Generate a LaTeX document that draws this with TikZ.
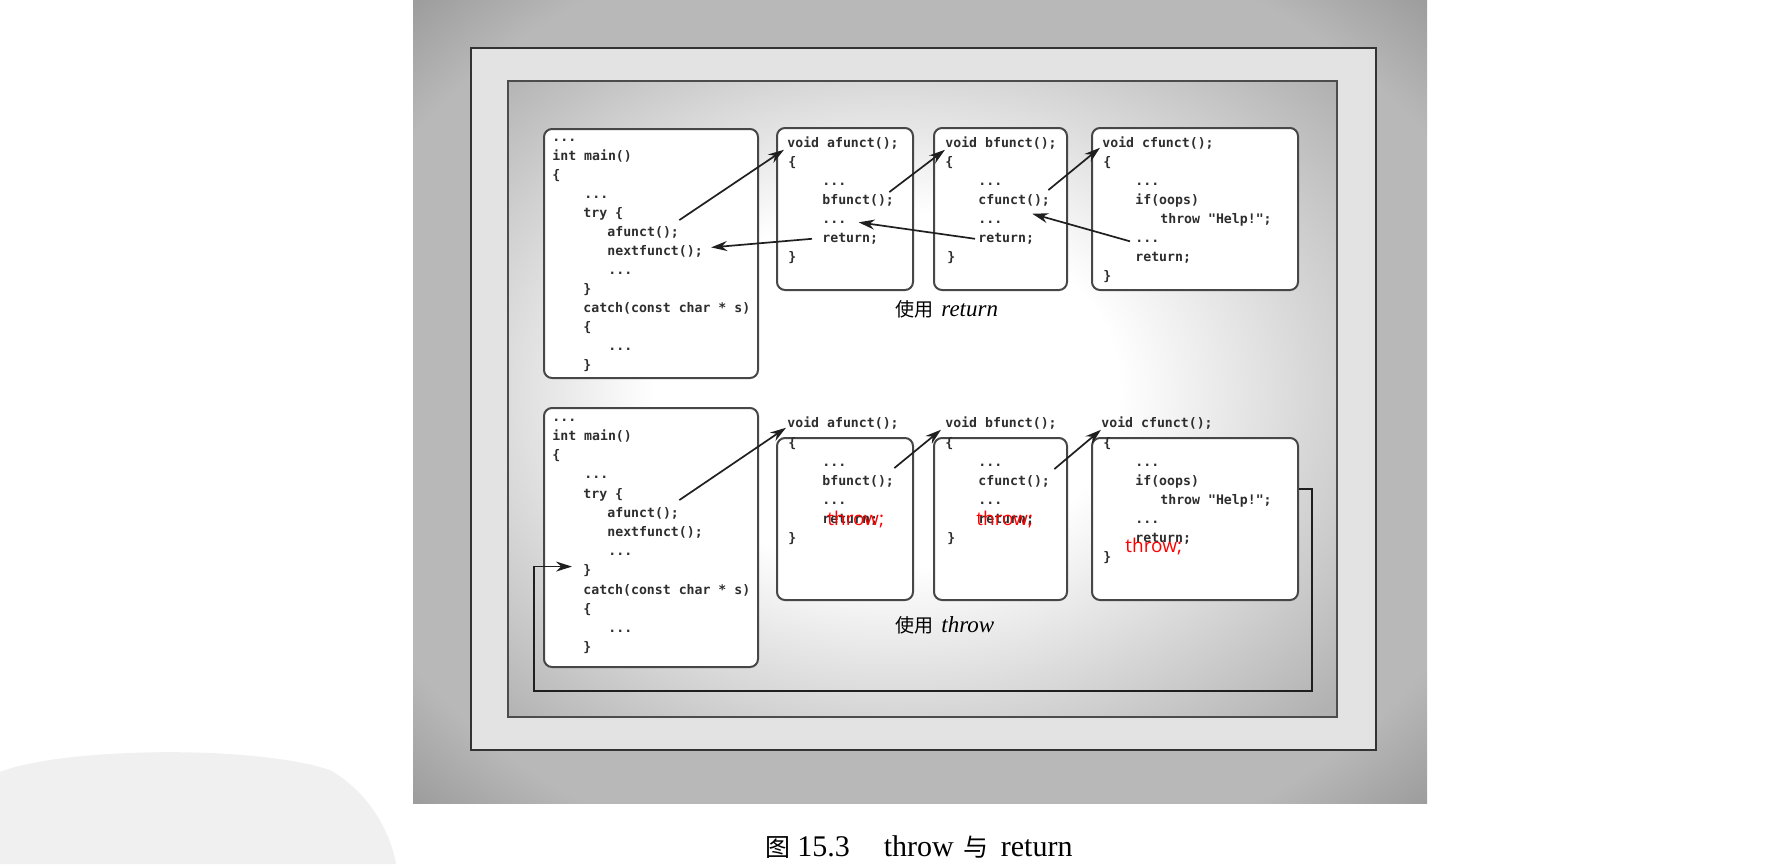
\documentclass[tikz,border=0pt]{standalone}
\usepackage{fontspec}
\setmainfont{Liberation Serif}
\newfontfamily\cjkfont{Noto Sans CJK SC}
\newfontfamily\codefont{DejaVu Sans Mono}
\newfontfamily\redfont{Open Sans}
\usetikzlibrary{arrows.meta,calc}
\colorlet{ringin}{black!28}
\colorlet{ringout}{black!40}
\colorlet{panelout}{black!30}
\colorlet{panelcorner}{black!40}
\pgfdeclareradialshading{ringshade}{\pgfpoint{0bp}{0bp}}{color(0bp)=(ringin); color(30bp)=(ringin); color(36bp)=(ringout); color(50bp)=(ringout)}
\pgfdeclareradialshading{panelshade}{\pgfpoint{-3bp}{1bp}}{color(0bp)=(white); color(14bp)=(white); color(35bp)=(panelout); color(50bp)=(panelcorner)}
\tikzset{
  code/.style={anchor=base west, inner sep=0pt, font=\codefont\bfseries\fontsize{6.6pt}{7pt}\selectfont, text=black!82},
  codebox/.style={draw=black!72, line width=1pt, fill=white, rounded corners=4pt, inner sep=0pt},
  arr/.style={draw=black!88, line width=0.85pt, -{Stealth[length=8pt,width=5pt]}},
  redtxt/.style={anchor=base west, inner sep=0pt, font=\redfont\fontsize{9.5pt}{10pt}\selectfont, text=red},
  captxt/.style={anchor=base west, inner sep=0pt},
}
\newcommand{\codeln}[4]{\node[code] (#1) at (#2,#3) {#4};}
\begin{document}
\begin{tikzpicture}[x=0.5pt,y=-0.5pt]
\useasboundingbox (0,0) rectangle (1790,864);
\fill[white] (0,0) rectangle (1790,864);
% faint watermark blob
\fill[black!6] (0,772) .. controls (60,748) and (250,744) .. (330,770) .. controls (368,792) and (390,830) .. (396,864) -- (0,864) -- cycle;
% scanned page frame
\shade[shading=ringshade] (413,0) rectangle (1427,803);
\fill[black!11] (471,48) rectangle (1376,750);
\draw[black!80, line width=1.3pt] (471,48) rectangle (1376,750);
\shade[shading=panelshade] (508,81) rectangle (1337,717);
\draw[black!70, line width=1.1pt] (508,81) rectangle (1337,717);

% boxes
\node[codebox, minimum width=107pt, minimum height=124.5pt] (tm) at (651,253.5) {};
\node[codebox, minimum width=68pt, minimum height=81pt] (ta) at (845,209) {};
\node[codebox, minimum width=66.5pt, minimum height=81pt] (tb) at (1000.5,209) {};
\node[codebox, minimum width=103pt, minimum height=81pt] (tc) at (1195,209) {};
\node[codebox, minimum width=107pt, minimum height=129.5pt] (bm) at (651,537.5) {};
\node[codebox, minimum width=68pt, minimum height=81pt] (ba) at (845,519) {};
\node[codebox, minimum width=66.5pt, minimum height=81pt] (bb) at (1000.5,519) {};
\node[codebox, minimum width=103pt, minimum height=81pt] (bc) at (1195,519) {};

% top main
\codeln{tm1}{552}{141.5}{...}
\codeln{tm2}{552}{160.5}{int main()}
\codeln{tm3}{552}{179.5}{\{}
\codeln{tm4}{584}{198.5}{...}
\codeln{tm5}{583}{217.5}{try \{}
\codeln{tm-afunct}{607}{236.5}{afunct();}
\codeln{tm-next}{607}{255.5}{nextfunct();}
\codeln{tm8}{608}{274.5}{...}
\codeln{tm9}{583}{293.5}{\}}
\codeln{tm10}{583}{312.5}{catch(const char * s)}
\codeln{tm11}{583}{331.5}{\{}
\codeln{tm12}{608}{350.5}{...}
\codeln{tm13}{583}{369.5}{\}}
% top afunct
\codeln{ta-void}{787}{147.5}{void afunct();}
\codeln{ta2}{788}{166.5}{\{}
\codeln{ta3}{822}{185.5}{...}
\codeln{ta-bf}{822}{204.5}{bfunct();}
\codeln{ta-dots2}{822}{223.5}{...}
\codeln{ta-ret}{822}{242.5}{return;}
\codeln{ta7}{788}{261.5}{\}}
% top bfunct
\codeln{tb-void}{945}{147.5}{void bfunct();}
\codeln{tb2}{945}{166.5}{\{}
\codeln{tb3}{978}{185.5}{...}
\codeln{tb-cf}{978}{204.5}{cfunct();}
\codeln{tb5}{978}{223.5}{...}
\codeln{tb-ret}{978}{242.5}{return;}
\codeln{tb7}{947}{261.5}{\}}
% top cfunct
\codeln{tc-void}{1102}{147.5}{void cfunct();}
\codeln{tc2}{1103}{166.5}{\{}
\codeln{tc3}{1135}{185.5}{...}
\codeln{tc4}{1135}{204.5}{if(oops)}
\codeln{tc5}{1160}{223.5}{throw "Help!";}
\codeln{tc-dots2}{1135}{242.5}{...}
\codeln{tc7}{1135}{261.5}{return;}
\codeln{tc8}{1103}{280.5}{\}}

% bottom main
\codeln{bm1}{552}{421.5}{...}
\codeln{bm2}{552}{440.5}{int main()}
\codeln{bm3}{552}{459.5}{\{}
\codeln{bm4}{584}{478.5}{...}
\codeln{bm5}{583}{498.5}{try \{}
\codeln{bm-afunct}{607}{517.5}{afunct();}
\codeln{bm-next}{607}{536.5}{nextfunct();}
\codeln{bm8}{608}{555.5}{...}
\codeln{bm-rbrace}{583}{574.5}{\}}
\codeln{bm10}{583}{594.5}{catch(const char * s)}
\codeln{bm11}{583}{613.5}{\{}
\codeln{bm12}{608}{632.5}{...}
\codeln{bm13}{583}{651.5}{\}}
% bottom afunct
\codeln{ba-void}{787}{427.5}{void afunct();}
\codeln{ba2}{788}{447.5}{\{}
\codeln{ba3}{822}{466.5}{...}
\codeln{ba-bf}{822}{485.5}{bfunct();}
\codeln{ba5}{822}{504.5}{...}
\codeln{ba6}{822}{523.5}{return;}
\codeln{ba7}{788}{542.5}{\}}
% bottom bfunct
\codeln{bb-void}{945}{427.5}{void bfunct();}
\codeln{bb2}{945}{447.5}{\{}
\codeln{bb3}{978}{466.5}{...}
\codeln{bb-cf}{978}{485.5}{cfunct();}
\codeln{bb5}{978}{504.5}{...}
\codeln{bb6}{978}{523.5}{return;}
\codeln{bb7}{947}{542.5}{\}}
% bottom cfunct
\codeln{bc-void}{1101}{427.5}{void cfunct();}
\codeln{bc2}{1103}{447.5}{\{}
\codeln{bc3}{1135}{466.5}{...}
\codeln{bc4}{1135}{485.5}{if(oops)}
\codeln{bc5}{1160}{504.5}{throw "Help!";}
\codeln{bc6}{1135}{523.5}{...}
\codeln{bc7}{1135}{542.5}{return;}
\codeln{bc8}{1103}{561.5}{\}}

% red overlays
\node[redtxt] (rt1) at (827,525) {throw;};
\node[redtxt] (rt2) at (976,525) {throw;};
\node[redtxt] (rt3) at (1125,552) {throw;};

% captions
\node[captxt] (cap1) at (895,316) {{\cjkfont\fontsize{9.5pt}{10pt}\selectfont 使用}\hspace{4pt}{\fontsize{11.5pt}{12pt}\selectfont\itshape return}};
\node[captxt] (cap2) at (895,632) {{\cjkfont\fontsize{9.5pt}{10pt}\selectfont 使用}\hspace{4pt}{\fontsize{11.5pt}{12pt}\selectfont\itshape throw}};
\node[captxt] (figcap) at (765,856) {{\cjkfont\fontsize{12.5pt}{13pt}\selectfont 图}\hspace{3.5pt}{\fontsize{15pt}{16pt}\selectfont 15.3\hspace{17pt}throw\hspace{5pt}}{\cjkfont\fontsize{12.5pt}{13pt}\selectfont 与}\hspace{6pt}{\fontsize{15pt}{16pt}\selectfont return}};

% arrows, top (return)
\draw[arr] ([yshift=3pt]tm-afunct.north east) -- ([xshift=-1.5pt]ta-void.south west);
\draw[arr] ([xshift=-5pt]ta-ret.west) -- ([xshift=4pt,yshift=2pt]tm-next.east);
\draw[arr] ([xshift=-2.5pt,yshift=1pt]ta-bf.north east) -- (tb-void.south west);
\draw[arr] ([xshift=-1.5pt]tb-ret.west) -- ([xshift=6pt]ta-dots2.east);
\draw[arr] ([xshift=-1pt,yshift=2pt]tb-cf.north east) -- ([xshift=-1pt,yshift=1pt]tc-void.south west);
\draw[arr] ([xshift=-2.5pt]tc-dots2.west) -- ([xshift=-9pt,yshift=-3.5pt]tb-cf.south east);
% arrows, bottom (throw)
\draw[arr] ([yshift=3.5pt]bm-afunct.north east) -- ([xshift=-0.5pt,yshift=1pt]ba-void.south west);
\draw[arr] ([yshift=3.5pt]ba-bf.north east) -- ([xshift=-2pt]bb-void.south west);
\draw[arr] ([xshift=2pt,yshift=3pt]bb-cf.north east) -- (bc-void.south west);
\coordinate (thr1) at (1312,691);
\coordinate (thr2) at (534,691);
\draw[arr, line width=0.9pt] ([yshift=15pt]bc.east) -| (thr1) -| (thr2) |- ([xshift=-5.5pt,yshift=2pt]bm-rbrace.west);
\end{tikzpicture}
\end{document}
